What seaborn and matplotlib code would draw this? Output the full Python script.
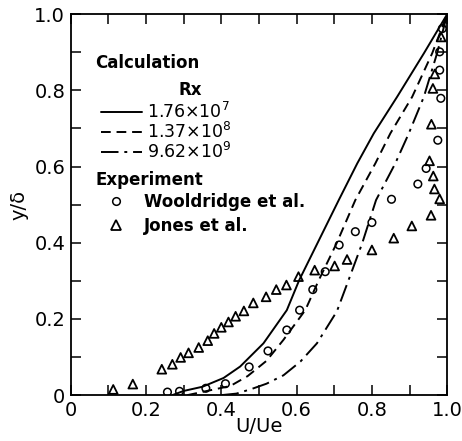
import numpy as np
import pandas as pd
import matplotlib
matplotlib.use("Agg")
import matplotlib.pyplot as plt
import seaborn as sns
from matplotlib.lines import Line2D

# calculation curves (U/Ue, y/delta)
solid_x = [0.27, 0.30, 0.35, 0.406, 0.45, 0.512, 0.574, 0.607, 0.655, 0.712, 0.761, 0.805, 0.867, 0.938, 1.0]
solid_y = [0.0, 0.011, 0.022, 0.045, 0.075, 0.136, 0.223, 0.302, 0.398, 0.512, 0.608, 0.687, 0.783, 0.897, 1.0]
dash_x = [0.31, 0.362, 0.424, 0.47, 0.52, 0.565, 0.623, 0.659, 0.706, 0.756, 0.809, 0.849, 0.907, 0.960, 1.0]
dash_y = [0.0, 0.011, 0.024, 0.05, 0.09, 0.145, 0.223, 0.302, 0.398, 0.512, 0.608, 0.687, 0.783, 0.897, 1.0]
dd_x = [0.40, 0.44, 0.48, 0.52, 0.565, 0.61, 0.654, 0.707, 0.738, 0.774, 0.811, 0.862, 0.898, 0.938, 0.973, 1.0]
dd_y = [0.0, 0.004, 0.016, 0.03, 0.052, 0.088, 0.136, 0.22, 0.302, 0.398, 0.512, 0.608, 0.687, 0.783, 0.897, 1.0]
calc_labels = ["1.76×10$^{7}$", "1.37×10$^{8}$", "9.62×10$^{9}$"]

# experiments
wool_x = [0.257, 0.289, 0.359, 0.411, 0.474, 0.524, 0.574, 0.608, 0.643, 0.676, 0.713, 0.756, 0.800,
          0.852, 0.922, 0.944, 0.975, 0.983, 0.980, 0.980, 0.987]
wool_y = [0.008, 0.010, 0.018, 0.030, 0.074, 0.116, 0.171, 0.223, 0.277, 0.324, 0.394, 0.429, 0.453,
          0.514, 0.554, 0.595, 0.669, 0.779, 0.853, 0.901, 0.962]
jones_x = [0.113, 0.165, 0.242, 0.270, 0.292, 0.313, 0.340, 0.364, 0.381, 0.400, 0.419, 0.438, 0.460,
           0.485, 0.519, 0.546, 0.573, 0.605, 0.648, 0.701, 0.734, 0.800, 0.858, 0.906, 0.957,
           0.980, 0.966, 0.963, 0.953, 0.958, 0.962, 0.967, 0.984]
jones_y = [0.015, 0.029, 0.068, 0.081, 0.099, 0.111, 0.125, 0.143, 0.162, 0.178, 0.192, 0.207, 0.221,
           0.242, 0.258, 0.277, 0.289, 0.311, 0.328, 0.339, 0.356, 0.381, 0.412, 0.444, 0.472,
           0.515, 0.541, 0.575, 0.615, 0.711, 0.805, 0.843, 0.940]
exp_labels = ["Wooldridge et al.", "Jones et al."]

sns.set_style("ticks")
plt.rcParams['font.family'] = ['DejaVu Sans']
plt.rcParams.update({"text.color": "black", "axes.labelcolor": "black",
                     "xtick.color": "black", "ytick.color": "black"})

fig = plt.figure(figsize=(4.62, 4.41), dpi=100)
ax = fig.add_axes([0.153, 0.104, 0.815, 0.864])

sns.lineplot(x=solid_x, y=solid_y, color="black", lw=1.4, ax=ax, sort=False)
sns.lineplot(x=dash_x, y=dash_y, color="black", lw=1.4, ax=ax, sort=False, linestyle=(0, (5, 3)))
sns.lineplot(x=dd_x, y=dd_y, color="black", lw=1.4, ax=ax, sort=False, linestyle=(0, (9, 3, 1.5, 3)))

sns.scatterplot(x=wool_x, y=wool_y, marker="o", s=30, facecolors="none", edgecolor="black", linewidth=1.1, ax=ax)
sns.scatterplot(x=jones_x, y=jones_y, marker="^", s=40, facecolors="none", edgecolor="black", linewidth=1.3, ax=ax)

ax.set_xlim(0, 1.0)
ax.set_ylim(0, 1.0)
ticks = [0, 0.2, 0.4, 0.6, 0.8, 1.0]
ticklabels = ["0", "0.2", "0.4", "0.6", "0.8", "1.0"]
ax.set_xticks(ticks)
ax.set_xticklabels(ticklabels)
ax.set_yticks(ticks)
ax.set_yticklabels(ticklabels)
ax.set_xticks(np.arange(0.1, 1.0, 0.2), minor=True)
ax.set_yticks(np.arange(0.1, 1.0, 0.2), minor=True)
ax.tick_params(which="both", direction="in", top=True, right=True, length=7, width=1.1,
               labelsize=14, pad=4, color="black", labelcolor="black")
for s in ax.spines.values():
    s.set_visible(True)
    s.set_linewidth(1.3)
    s.set_color("black")

ax.set_xlabel("U/Ue", fontsize=14, labelpad=-2)
ax.set_ylabel("y/δ", fontsize=14, labelpad=4)

# legend block
ax.text(0.065, 0.871, "Calculation", transform=ax.transAxes, fontsize=12, fontweight="bold", va="center")
ax.text(0.318, 0.80, "Rx", transform=ax.transAxes, fontsize=12, fontweight="bold", va="center", ha="center")
calc_handles = [
    Line2D([], [], color="black", lw=1.4),
    Line2D([], [], color="black", lw=1.4, linestyle=(0, (5, 3))),
    Line2D([], [], color="black", lw=1.4, linestyle=(0, (9, 3, 1.5, 3))),
]
leg1 = ax.legend(calc_handles, calc_labels, loc="upper left", bbox_to_anchor=(0.08, 0.77),
                 frameon=False, fontsize=12.5, handlelength=2.4, handletextpad=0.25,
                 labelspacing=0.0, borderaxespad=0, borderpad=0)
ax.add_artist(leg1)

ax.text(0.065, 0.564, "Experiment", transform=ax.transAxes, fontsize=12, fontweight="bold", va="center")
exp_handles = [
    Line2D([], [], marker="o", ls="none", mfc="none", mec="black", ms=5.5, mew=1.1),
    Line2D([], [], marker="^", ls="none", mfc="none", mec="black", ms=6.5, mew=1.3),
]
ax.legend(exp_handles, exp_labels, loc="upper left", bbox_to_anchor=(0.085, 0.53),
          frameon=False, handlelength=1.6, handletextpad=0.9,
          labelspacing=0.35, borderaxespad=0, borderpad=0,
          prop={"weight": "bold", "size": 12})

fig.savefig("out.png", dpi=100)
